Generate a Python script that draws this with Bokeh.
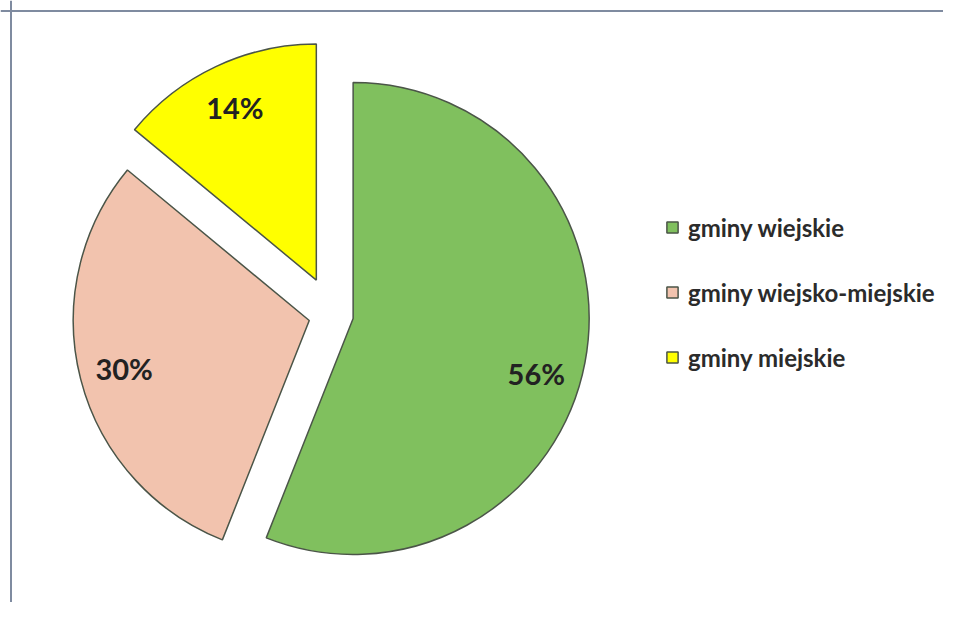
import math
from bokeh.plotting import figure
from bokeh.models import Range1d, Legend, LegendItem, Span
from bokeh.core.properties import value
from bokeh.embed import file_html
from bokeh.resources import INLINE

# ---- data ----
categories = ["gminy wiejskie", "gminy wiejsko-miejskie", "gminy miejskie"]
shares = [56, 30, 14]
pct_labels = ["56%", "30%", "14%"]

# ---- styles ----
colors = ["#80c05e", "#f2c3ae", "#ffff00"]
label_nudge_deg = [-5.8, 0.0, 0.0]
explode_px = [21, 24, 38]

W, H = 943, 602
R_PX = 236.0           # pie radius in pixels
CX, CY = 332.0, 314.0  # pie centre on canvas (px from left / top)
LABEL_R = 0.81

x_range = Range1d(-CX / R_PX, (W - CX) / R_PX)
y_range = Range1d(-(H - CY) / R_PX, CY / R_PX)

p = figure(width=W, height=H, x_range=x_range, y_range=y_range,
           output_backend="svg", toolbar_location=None, min_border=0)
p.axis.visible = False
p.grid.visible = False
p.outline_line_color = None
p.background_fill_color = "white"
p.border_fill_color = "white"

# chart frame (top + left edges visible in the scan)
p.add_layout(Span(location=y_range.end - 10.5 / R_PX, dimension="width",
                  line_color="#7f8ba0", line_width=2))
p.add_layout(Span(location=x_range.start + 10.5 / R_PX, dimension="height",
                  line_color="#7f8ba0", line_width=2))

total = float(sum(shares))
start = math.pi / 2
items = []
for cat, s, lab, col, nudge, ex in zip(categories, shares, pct_labels, colors,
                                       label_nudge_deg, explode_px):
    span = 2 * math.pi * s / total
    end_a = start
    st_a = start - span
    mid = (st_a + end_a) / 2
    e = ex / R_PX
    ox, oy = e * math.cos(mid), e * math.sin(mid)
    r = p.wedge(x=[ox], y=[oy], radius=1.0, start_angle=st_a, end_angle=end_a,
                fill_color=col, line_color="#4b5548", line_width=1.5)
    la = mid + math.radians(nudge)
    p.text(x=[ox + LABEL_R * math.cos(la)], y=[oy + LABEL_R * math.sin(la)], text=[lab],
           text_font=value("Lato"), text_font_style="bold", text_font_size="29px",
           text_align="center", text_baseline="middle", text_color="#222222")
    items.append(LegendItem(label=cat, renderers=[r]))
    start = st_a

legend = Legend(items=items, location=(665, 230), orientation="vertical",
                glyph_width=14, glyph_height=14, label_standoff=9, label_height=30,
                spacing=35, padding=0, margin=0,
                label_text_font="Lato", label_text_font_style="bold",
                label_text_font_size="24px", label_text_color="#2b2b2b",
                border_line_color=None, background_fill_alpha=0)
p.add_layout(legend)

open("out.html", "w").write(file_html(p, INLINE))
